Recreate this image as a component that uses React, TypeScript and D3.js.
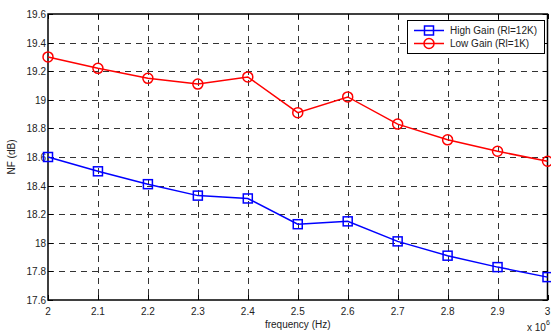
import React, { useEffect, useRef } from "react";
import * as d3 from "d3";

const freqs = [2, 2.1, 2.2, 2.3, 2.4, 2.5, 2.6, 2.7, 2.8, 2.9, 3];
const highGain = [18.6, 18.5, 18.41, 18.33, 18.31, 18.13, 18.15, 18.01, 17.91, 17.83, 17.76];
const lowGain = [19.3, 19.22, 19.15, 19.11, 19.16, 18.91, 19.02, 18.83, 18.72, 18.64, 18.57];
const xTicks = [2, 2.1, 2.2, 2.3, 2.4, 2.5, 2.6, 2.7, 2.8, 2.9, 3];
const yTicks = [17.6, 17.8, 18, 18.2, 18.4, 18.6, 18.8, 19, 19.2, 19.4, 19.6];

const App = () => {
  const svgRef = useRef<SVGSVGElement>(null);

  useEffect(() => {
    const w = 551;
    const h = 336;
    const m = { left: 48, top: 14, right: 3, bottom: 36 };
    const svg = d3.select(svgRef.current)
      .attr("width", w)
      .attr("height", h)
      .style("font-family", "'Liberation Sans', Arial, sans-serif");
    svg.selectAll("*").remove();

    const x = d3.scaleLinear().domain([2, 3]).range([m.left, w - m.right - 0.5]);
    const y = d3.scaleLinear().domain([17.6, 19.6]).range([h - m.bottom, m.top]);
    const x0 = x.range()[0], x1 = x.range()[1];
    const y0 = y.range()[0], y1 = y.range()[1];

    svg.append("rect").attr("width", w).attr("height", h).attr("fill", "#fff");

    // grid
    const grid = svg.append("g")
      .attr("stroke", "#333")
      .attr("stroke-width", 1)
      .attr("stroke-dasharray", "6,5");
    grid.selectAll("line.v")
      .data(xTicks.slice(1, -1))
      .join("line")
      .attr("x1", d => Math.round(x(d)) + 0.5).attr("x2", d => Math.round(x(d)) + 0.5)
      .attr("y1", y1).attr("y2", y0);
    grid.selectAll("line.h")
      .data(yTicks.slice(1, -1))
      .join("line")
      .attr("class", "h")
      .attr("y1", d => Math.round(y(d)) + 0.5).attr("y2", d => Math.round(y(d)) + 0.5)
      .attr("x1", x0).attr("x2", x1);

    // ticks (inside, all four sides)
    const ticks = svg.append("g").attr("stroke", "#000").attr("stroke-width", 1);
    xTicks.forEach(t => {
      const px = Math.round(x(t)) + 0.5;
      ticks.append("line").attr("x1", px).attr("x2", px).attr("y1", y0).attr("y2", y0 - 5);
      ticks.append("line").attr("x1", px).attr("x2", px).attr("y1", y1).attr("y2", y1 + 5);
    });
    yTicks.forEach(t => {
      const py = Math.round(y(t)) + 0.5;
      ticks.append("line").attr("x1", x0).attr("x2", x0 + 5).attr("y1", py).attr("y2", py);
      ticks.append("line").attr("x1", x1).attr("x2", x1 - 5).attr("y1", py).attr("y2", py);
    });

    // box
    svg.append("rect")
      .attr("x", x0).attr("y", y1)
      .attr("width", x1 - x0).attr("height", y0 - y1)
      .attr("fill", "none").attr("stroke", "#000").attr("stroke-width", 1.5);

    // tick labels
    svg.append("g").selectAll("text")
      .data(xTicks)
      .join("text")
      .attr("x", d => x(d))
      .attr("y", y0 + 15)
      .attr("text-anchor", "middle")
      .attr("font-size", 10)
      .attr("fill", "#222")
      .text(d => d3.format("")(d));
    svg.append("g").selectAll("text")
      .data(yTicks)
      .join("text")
      .attr("x", x0 - 2)
      .attr("y", d => y(d) + 4)
      .attr("text-anchor", "end")
      .attr("font-size", 10)
      .attr("fill", "#222")
      .text(d => d3.format("")(+d.toFixed(1)));

    // axis titles
    svg.append("text")
      .attr("x", (x0 + x1) / 2).attr("y", y0 + 28)
      .attr("text-anchor", "middle").attr("font-size", 10).attr("fill", "#222")
      .text("frequency (Hz)");
    svg.append("text")
      .attr("transform", `translate(15,${(y0 + y1) / 2}) rotate(-90)`)
      .attr("text-anchor", "middle").attr("font-size", 10).attr("fill", "#222")
      .text("NF (dB)");
    const exp = svg.append("text")
      .attr("x", 527).attr("y", 331)
      .attr("font-size", 10).attr("fill", "#222");
    exp.append("tspan").text("x 10");
    exp.append("tspan").attr("font-size", 7).attr("dy", -6).text("6");

    // series
    const series = [
      { name: "High Gain (Rl=12K)", values: highGain, color: "#0000ff", marker: "square" },
      { name: "Low Gain (Rl=1K)", values: lowGain, color: "#ff0000", marker: "circle" },
    ];
    const line = d3.line<number>().x((_, i) => x(freqs[i])).y(d => y(d));

    const drawMarker = (g: any, cx: number, cy: number, s: typeof series[0]) => {
      if (s.marker === "square") {
        g.append("rect")
          .attr("x", cx - 4.5).attr("y", cy - 4.5)
          .attr("width", 9).attr("height", 9)
          .attr("fill", "none").attr("stroke", s.color).attr("stroke-width", 1.5);
      } else {
        g.append("circle")
          .attr("cx", cx).attr("cy", cy).attr("r", 5)
          .attr("fill", "none").attr("stroke", s.color).attr("stroke-width", 1.5);
      }
    };

    series.forEach(s => {
      const g = svg.append("g");
      g.append("path")
        .attr("d", line(s.values))
        .attr("fill", "none")
        .attr("stroke", s.color)
        .attr("stroke-width", 1.5);
      s.values.forEach((v, i) => drawMarker(g, x(freqs[i]), y(v), s));
    });

    // legend
    const lg = svg.append("g").attr("transform", "translate(407,20)");
    lg.append("rect")
      .attr("x", 0.5).attr("y", 0.5).attr("width", 137).attr("height", 33)
      .attr("fill", "#fff").attr("stroke", "#000").attr("stroke-width", 1);
    series.forEach((s, i) => {
      const ly = 10.5 + i * 13;
      lg.append("line")
        .attr("x1", 7).attr("x2", 37).attr("y1", ly).attr("y2", ly)
        .attr("stroke", s.color).attr("stroke-width", 1.5);
      drawMarker(lg, 22, ly, s);
      lg.append("text")
        .attr("x", 43).attr("y", ly + 3.5)
        .attr("font-size", 10).attr("fill", "#222")
        .text(s.name);
    });
  }, []);

  return (
    <svg ref={svgRef} style={{ position: "absolute", left: 0, top: 0 }}></svg>
  );
};

export default App;
